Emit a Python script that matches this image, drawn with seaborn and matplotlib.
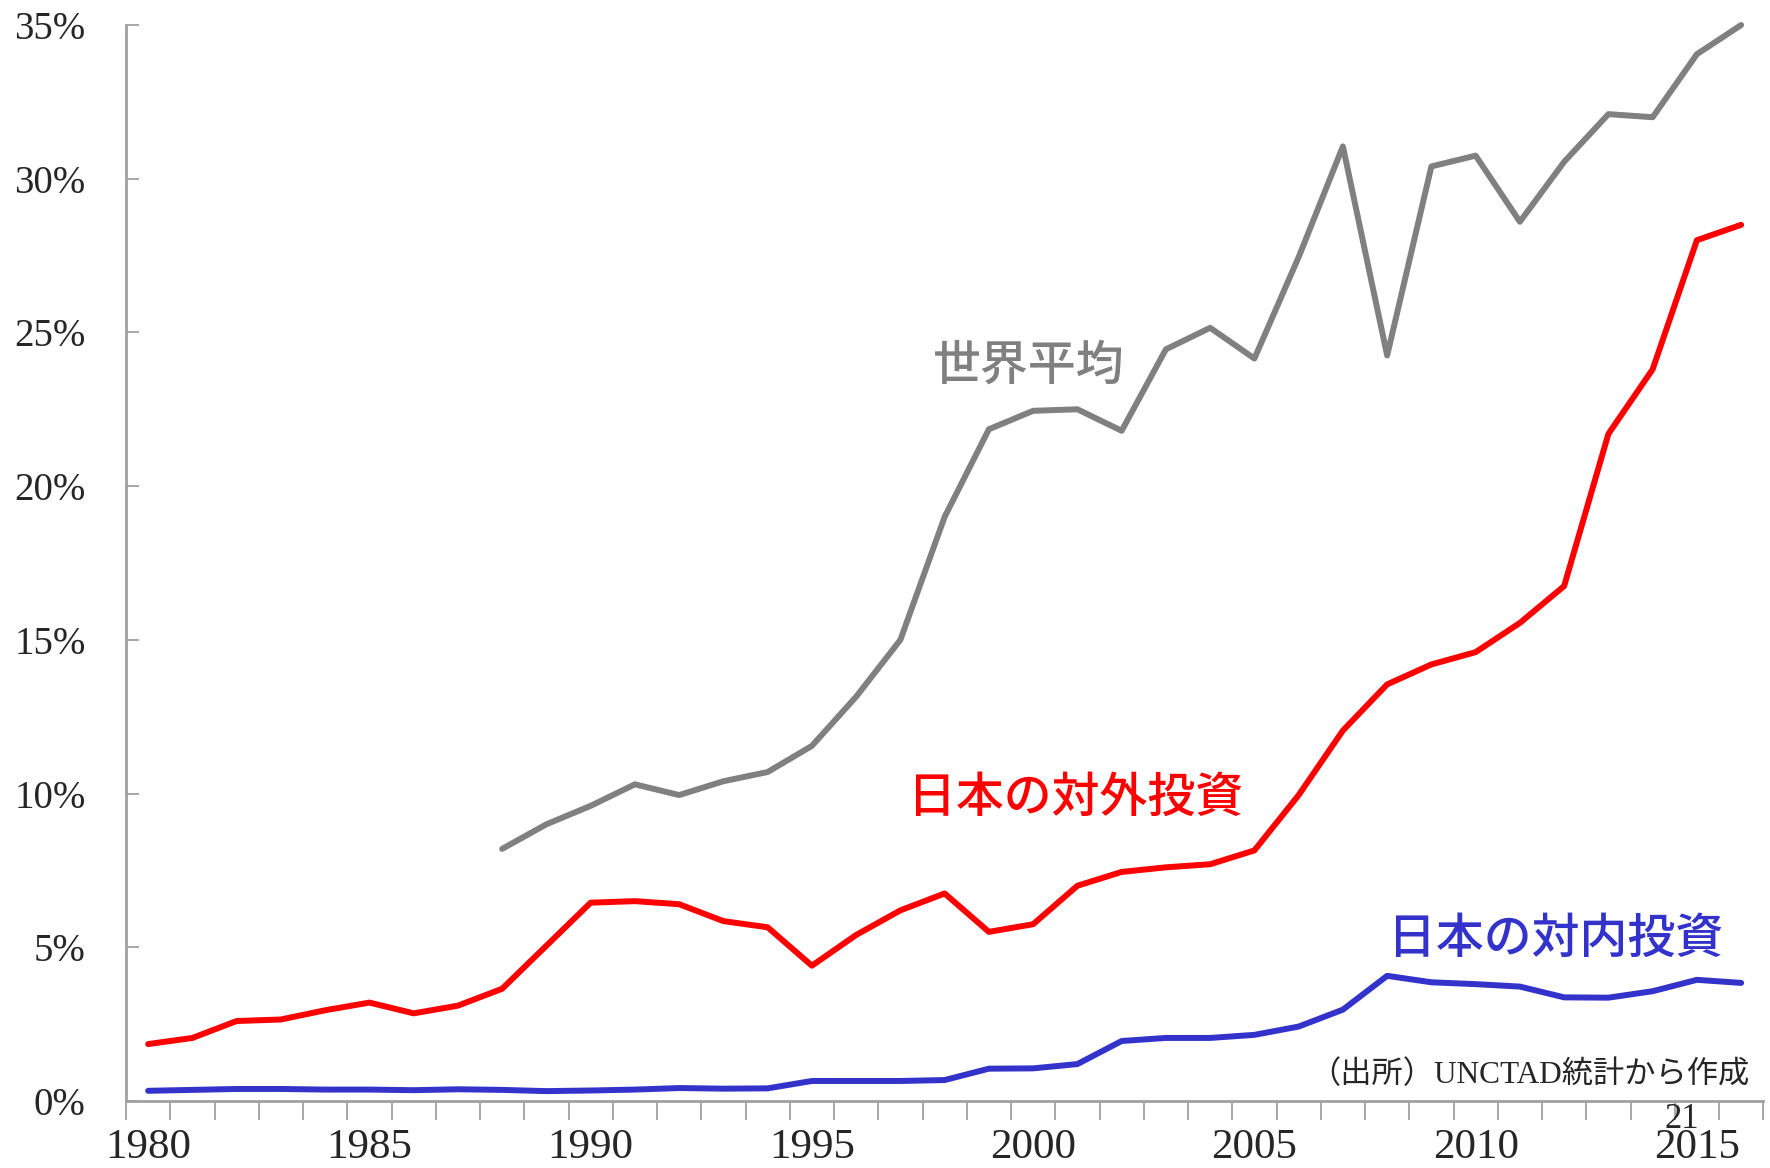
import numpy as np
import pandas as pd
import matplotlib
matplotlib.use('Agg')
import matplotlib.pyplot as plt
import seaborn as sns
from matplotlib.ticker import FixedLocator, FuncFormatter

# --- data (share of GDP, %) ---
years = list(range(1980, 2017))

world_avg = [np.nan] * 8 + [
    8.2, 9.0, 9.6, 10.3, 9.95, 10.4, 10.7, 11.55, 13.15, 15.0,
    19.0, 21.85, 22.45, 22.5, 21.8, 24.45, 25.15, 24.15, 27.45, 31.05,
    24.25, 30.4, 30.75, 28.6, 30.55, 32.1, 32.0, 34.05, 35.0]

japan_out = [
    1.85, 2.05, 2.6, 2.65, 2.95, 3.2, 2.85, 3.1, 3.65, 5.05,
    6.45, 6.5, 6.4, 5.85, 5.65, 4.4, 5.4, 6.2, 6.75, 5.5,
    5.75, 7.0, 7.45, 7.6, 7.7, 8.15, 9.95, 12.05, 13.55, 14.2,
    14.6, 15.55, 16.75, 21.7, 23.8, 28.0, 28.5]

japan_in = [
    0.33, 0.36, 0.39, 0.39, 0.37, 0.37, 0.35, 0.38, 0.36, 0.32,
    0.34, 0.37, 0.42, 0.4, 0.41, 0.65, 0.65, 0.65, 0.68, 1.05,
    1.06, 1.2, 1.95, 2.05, 2.05, 2.15, 2.42, 2.97, 4.07, 3.86,
    3.8, 3.72, 3.37, 3.36, 3.57, 3.94, 3.84]

series_names = ['世界平均', '日本の対外投資', '日本の対内投資']
series_colors = ['#808080', '#FF0000', '#3333CC']

df = pd.DataFrame({
    'year': years * 3,
    'value': world_avg + japan_out + japan_in,
    'series': np.repeat(series_names, len(years)),
})

# --- plot ---
sns.set_style('white')
plt.rcParams['font.family'] = ['Liberation Serif', 'Noto Sans CJK JP']

fig = plt.figure(figsize=(17.7, 11.68), dpi=100)
ax = fig.add_axes([0.0712, 0.0574, 0.9250, 0.9212])

sns.lineplot(data=df, x='year', y='value', hue='series', hue_order=series_names,
             palette=series_colors, linewidth=4.3, legend=False, ax=ax)
for ln in ax.lines:
    ln.set_clip_on(False)

ax.set_xlim(1979.5, 2016.5)
ax.set_ylim(0, 35)
ax.set_xlabel('')
ax.set_ylabel('')

# y axis
ax.set_yticks(range(0, 36, 5))
ax.yaxis.set_major_formatter(FuncFormatter(lambda v, p: f'{int(v)}%'))
ax.tick_params(axis='y', left=True, direction='in', length=9, width=1.3,
               color='#A0A0A0', labelsize=28, pad=29)

# x axis: labels at category centres, ticks at category edges
ax.set_xticks(range(1980, 2016, 5))
ax.xaxis.set_minor_locator(FixedLocator(np.arange(1979.5, 2017, 1.0)))
ax.tick_params(axis='x', which='major', bottom=True, length=0, labelsize=31, pad=20)
ax.tick_params(axis='x', which='minor', bottom=True, direction='out', length=14,
               width=1.3, color='#A0A0A0')

for side in ['top', 'right']:
    ax.spines[side].set_visible(False)
for side in ['left', 'bottom']:
    ax.spines[side].set_color('#A0A0A0')
    ax.spines[side].set_linewidth(2)

# series labels
cjk = ['Noto Sans CJK JP', 'DejaVu Sans']
ax.text(1999.9, 23.9, '世界平均', color='#808080', fontsize=34.5, family=cjk,
        fontweight='medium', ha='center', va='center')
ax.text(2000.95, 9.85, '日本の対外投資', color='#FF0000', fontsize=34.5, family=cjk,
        fontweight='medium', ha='center', va='center')
ax.text(2011.8, 5.25, '日本の対内投資', color='#3333CC', fontsize=34.5, family=cjk,
        fontweight='medium', ha='center', va='center')

# source note and page number
ax.text(2016.2, 0.85, '（出所）UNCTAD統計から作成', fontsize=22.5,
        family=['Liberation Serif', 'Noto Sans CJK JP'], ha='right', va='center')
fig.text(1682 / 1770, 1 - 1120 / 1168, '21', fontsize=25, ha='center', va='center')

fig.savefig('out.png', dpi=100)
